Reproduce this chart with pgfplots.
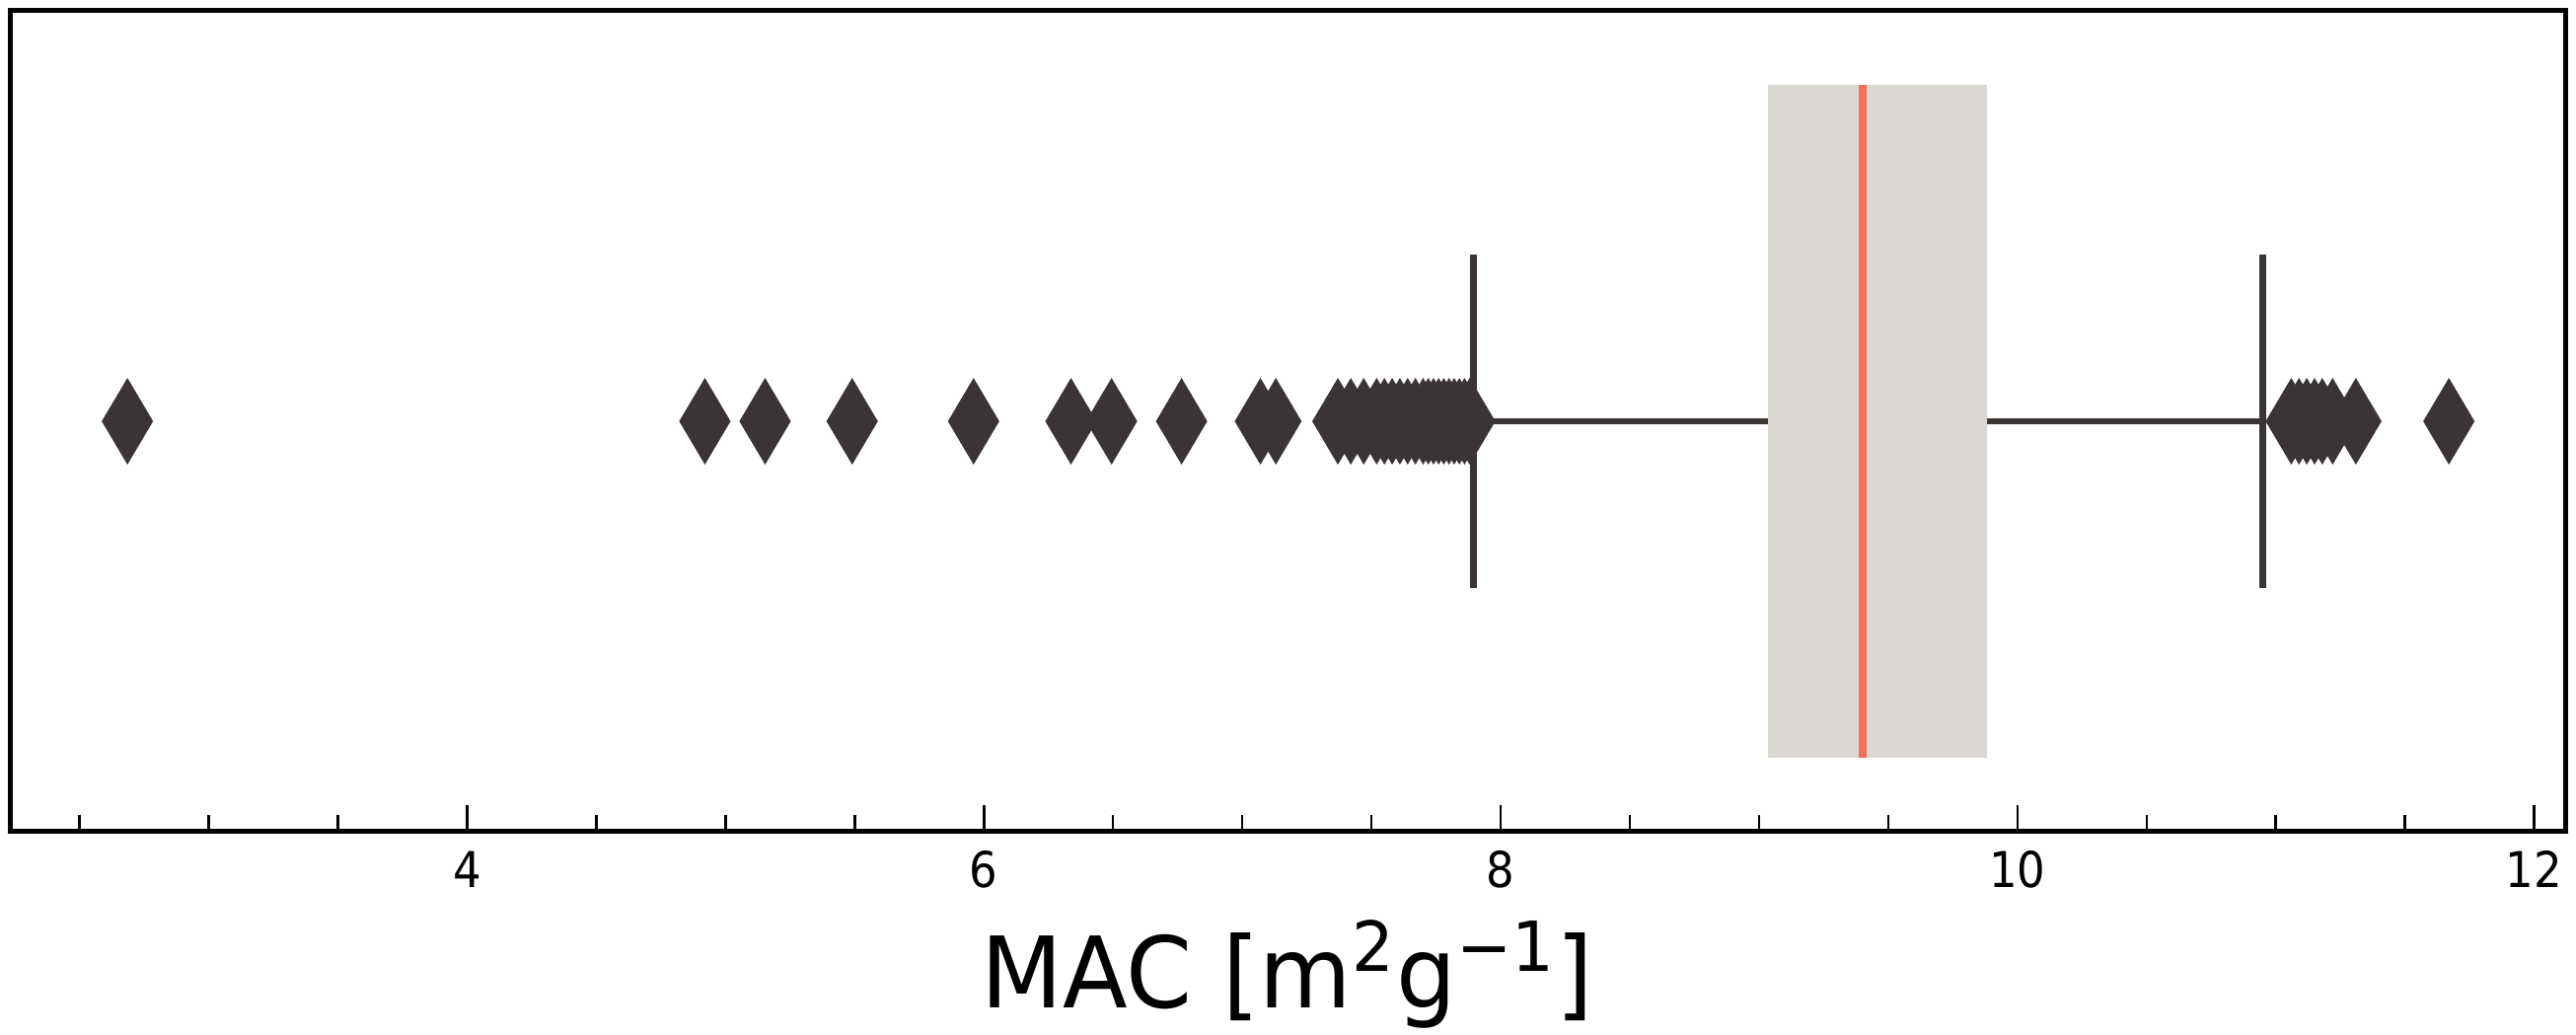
\documentclass[border=0pt]{standalone}
\usepackage{fontspec}
\setmainfont[FakeStretch=0.9]{DejaVu Sans}
\newfontfamily\labelfont[FakeStretch=0.96]{DejaVu Sans}
\usepackage{pgfplots}
\pgfplotsset{compat=1.18}
\usepgfplotslibrary{statistics}
\usetikzlibrary{calc}

\definecolor{dk}{RGB}{58,53,52}
\definecolor{boxgray}{RGB}{219,216,212}
\definecolor{medred}{RGB}{245,110,85}

\begin{document}
\begin{tikzpicture}
  \begin{axis}[
    name=ax,
    scale only axis,
    width=518pt, height=166.4pt,
    xmin=2.23, xmax=12.12,
    ymin=0, ymax=1,
    xtick={4,6,8,10,12},
    minor xtick={2.5,3,3.5,4.5,5,5.5,6.5,7,7.5,8.5,9,9.5,10.5,11,11.5},
    ytick=\empty,
    xtick pos=bottom,
    tick align=inside,
    major tick length=5.4pt,
    minor tick length=3.4pt,
    tick style={black, line width=0.5pt},
    axis line style={line width=1pt},
    /pgf/number format/assume math mode=true,
    xticklabel style={font=\fontsize{10}{12}\selectfont, anchor=base, yshift=-11.4pt},
    xlabel={MAC [m\textsuperscript{2}g\textsuperscript{−1}]},
    xlabel style={font=\labelfont\fontsize{20}{24}\selectfont, at={(axis description cs:0.5,0)}, anchor=base, yshift=-35.8pt},
  ]
    % box, median and whiskers
    \addplot[dk, boxplot/draw direction=x,
      boxplot prepared={
        lower whisker=7.895, lower quartile=9.036, median=9.40,
        upper quartile=9.884, upper whisker=10.95,
        draw position=0.5, box extend=0.82, whisker extend=0.406,
        every box/.style={draw=none, fill=boxgray},
        every median/.style={draw=medred, line width=1.6pt},
        every whisker/.style={draw=dk, line width=1.3pt}
      }] coordinates {};

    % outliers
    \addplot[only marks, mark=diamond*, mark size=8.4pt, color=dk,
      mark options={fill=dk, draw=dk, line width=0.4pt, xscale=0.79}] coordinates {
      (2.685,0.5) (4.92,0.5) (5.153,0.5) (5.49,0.5) (5.96,0.5)
      (6.337,0.5) (6.494,0.5) (6.765,0.5) (7.07,0.5) (7.13,0.5)
      (7.37,0.5) (7.42,0.5) (7.47,0.5) (7.52,0.5) (7.55,0.5)
      (7.58,0.5) (7.61,0.5) (7.64,0.5) (7.67,0.5) (7.70,0.5)
      (7.72,0.5) (7.74,0.5) (7.76,0.5) (7.78,0.5) (7.80,0.5)
      (7.82,0.5) (7.84,0.5) (7.86,0.5) (7.88,0.5)
      (11.06,0.5) (11.09,0.5) (11.12,0.5) (11.15,0.5) (11.18,0.5)
      (11.22,0.5) (11.31,0.5) (11.67,0.5)
    };
  \end{axis}
  \pgfresetboundingbox
  \path ($(ax.south west)+(-2pt,-41.2pt)$) rectangle ($(ax.north east)+(2.2pt,2.2pt)$);
\end{tikzpicture}
\end{document}
